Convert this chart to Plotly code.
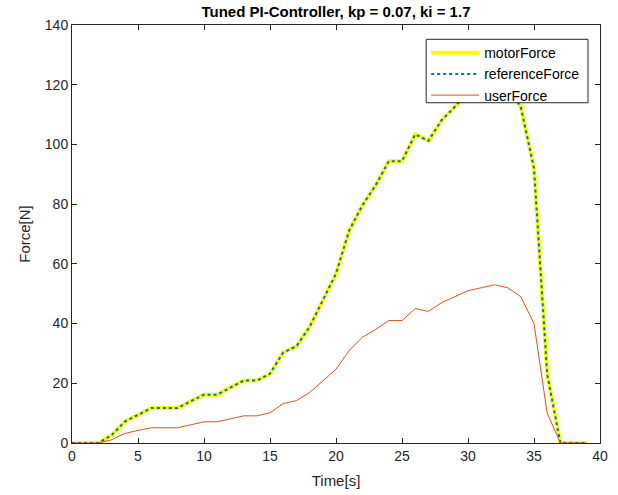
import plotly.graph_objects as go

time_s = list(range(0, 40))
user_force = [0, 0, 0, 1.1, 3.2, 4.2, 5.1, 5.1, 5.1, 6.1, 7.1, 7.1, 8.1, 9.1, 9.1, 10.1,
              13.2, 14.2, 16.9, 20.8, 24.7, 31.0, 35.4, 38.0, 41.0, 41.0, 45.0, 44.1, 47.0,
              49.0, 51.0, 52.0, 53.0, 52.0, 49.0, 40.0, 10.0, 0, 0, 0]
reference_force = [0, 0, 0, 2.6, 7.2, 9.4, 11.7, 11.7, 11.7, 14.0, 16.2, 16.2, 18.5, 20.9,
                   20.9, 23.2, 30.3, 32.4, 38.9, 47.8, 56.7, 71.2, 79.6, 86.3, 94.4, 94.4,
                   103.4, 101.2, 108.1, 112.6, 117.5, 119.5, 121.5, 119.5, 112.5, 92.0, 23.0,
                   0, 0, 0]
motor_force = list(reference_force)

FONT = "Liberation Sans, Arial, Helvetica, sans-serif"

fig = go.Figure()
fig.add_trace(go.Scatter(x=time_s, y=motor_force, mode="lines", name="motorForce",
                         line=dict(color="#FFFF00", width=4)))
fig.add_trace(go.Scatter(x=time_s, y=reference_force, mode="lines", name="referenceForce",
                         line=dict(color="#0072BD", width=2, dash="dot")))
fig.add_trace(go.Scatter(x=time_s, y=user_force, mode="lines", name="userForce",
                         line=dict(color="#D95319", width=1)))

axis_common = dict(showgrid=False, zeroline=False, showline=True, linecolor="#262626",
                   linewidth=1, mirror="ticks", ticks="inside", ticklen=5, tickcolor="#262626",
                   automargin=False,
                   tickfont=dict(family=FONT, size=14, color="#262626"))

# legend box (MATLAB style) drawn as a shape
fig.add_shape(type="rect", xref="paper", yref="paper",
              x0=0.6708, x1=0.9773, y0=0.814, y1=0.9658,
              fillcolor="white", line=dict(color="#262626", width=1), layer="above")

fig.update_layout(
    width=618, height=495,
    margin=dict(l=71.5, r=18, t=25, b=52.3),
    paper_bgcolor="white", plot_bgcolor="white",
    title=dict(text="<b>Tuned PI-Controller, kp = 0.07, ki = 1.7</b>", x=0.5, xref="paper",
               xanchor="center", y=0.977, yanchor="middle",
               font=dict(family=FONT, size=15, color="black")),
    xaxis=dict(range=[0, 40], dtick=5,
               title=dict(text="Time[s]", standoff=12,
                          font=dict(family=FONT, size=15, color="#262626")),
               **axis_common),
    yaxis=dict(range=[0, 140], dtick=20,
               title=dict(text="Force[N]", standoff=10,
                          font=dict(family=FONT, size=15, color="#262626")),
               **axis_common),
    legend=dict(x=0.6708, y=0.971, xanchor="left", yanchor="top",
                bgcolor="rgba(0,0,0,0)", borderwidth=0, itemwidth=48,
                font=dict(family=FONT, size=14, color="black"),
                tracegroupgap=0),
    showlegend=True,
)

fig.write_html("out.html", config={"displayModeBar": False},
               post_script="document.body.style.margin='0';")
